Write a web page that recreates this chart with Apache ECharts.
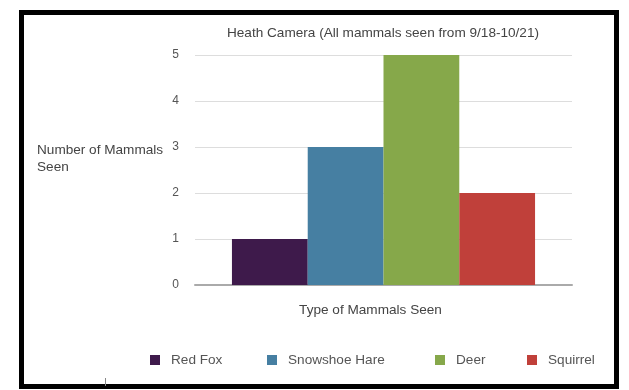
<!DOCTYPE html>
<html>
<head>
<meta charset="utf-8">
<script src="https://cdn.jsdelivr.net/npm/echarts@6/dist/echarts.min.js"></script>
<style>
  html, body { margin: 0; padding: 0; background: #fff; }
  #chart { width: 629px; height: 390px; }
</style>
</head>
<body>
<div id="chart"></div>
<script>
// Mammal sightings recorded by the Heath trail camera
const categories = ['All mammals'];
const species = ['Red Fox', 'Snowshoe Hare', 'Deer', 'Squirrel'];
const counts = [1, 3, 5, 2];
const colors = ['#3e1a4b', '#467fa2', '#86a84a', '#c0403a'];
const yTicks = [0, 1, 2, 3, 4, 5];

const textColor = '#444';
const font = 'Liberation Sans, Arial, sans-serif';
const fontSize = 13.6;

// left edge of each legend entry, laid out in one row under the plot
const legendLefts = [150, 267, 435, 527];

const chart = echarts.init(document.getElementById('chart'), null, { renderer: 'canvas' });

const series = species.map((name, i) => ({
  name: name,
  type: 'bar',
  data: [counts[i]],
  barGap: '0%',
  barCategoryGap: '19.6%',
  itemStyle: { color: colors[i] }
}));

const legends = species.map((name, i) => ({
  data: [name],
  left: legendLefts[i], top: 353,
  padding: 0,
  itemWidth: 10, itemHeight: 10,
  icon: 'rect',
  textStyle: { fontSize: fontSize, color: '#555', fontFamily: font, padding: [0, 0, 0, 6] }
}));

chart.setOption({
  animation: false,
  backgroundColor: '#fff',
  textStyle: { fontFamily: font },
  title: {
    text: 'Heath Camera (All mammals seen from 9/18-10/21)',
    left: 378, textAlign: 'center',
    top: 21,
    textStyle: { fontSize: fontSize, fontWeight: 'normal', color: textColor, fontFamily: font }
  },
  legend: legends,
  grid: { left: 195, right: 57, top: 55, bottom: 105, containLabel: false },
  xAxis: {
    type: 'category',
    data: categories,
    name: 'Type of Mammals Seen',
    nameLocation: 'middle',
    nameGap: 18,
    nameTextStyle: { fontSize: fontSize, color: textColor, fontFamily: font, padding: [0, 26, 0, 0] },
    axisLine: { lineStyle: { color: '#aaa', width: 2 } },
    axisTick: { show: false },
    axisLabel: { show: false }
  },
  yAxis: {
    type: 'value',
    min: yTicks[0], max: yTicks[yTicks.length - 1], interval: 1,
    axisLine: { show: false },
    axisTick: { show: false },
    axisLabel: { fontSize: 12, color: '#555', margin: 16, fontFamily: font },
    splitLine: { lineStyle: { color: '#ddd', width: 1 } }
  },
  series: series,
  graphic: [
    {
      type: 'text',
      left: 37, top: 142,
      style: {
        text: 'Number of Mammals\nSeen',
        fontSize: fontSize, lineHeight: 17,
        fill: textColor, fontFamily: font
      }
    },
    {
      type: 'rect',
      shape: { x: 21.5, y: 12.5, width: 595, height: 374 },
      style: { fill: 'none', stroke: '#000', lineWidth: 5 },
      z: 100
    },
    {
      type: 'line',
      shape: { x1: 105.5, y1: 378, x2: 105.5, y2: 386 },
      style: { stroke: '#888', lineWidth: 1 },
      z: 100
    }
  ]
});
</script>
</body>
</html>
